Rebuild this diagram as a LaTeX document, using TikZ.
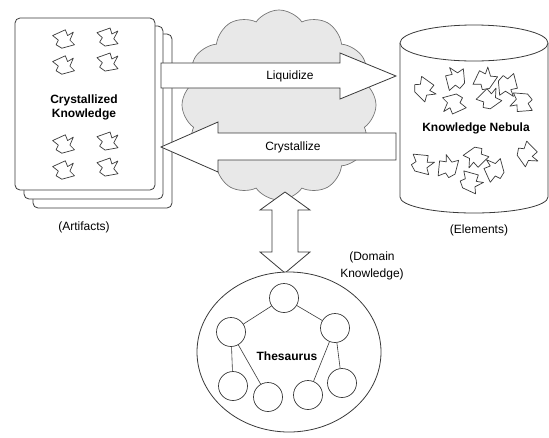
\documentclass[tikz,border=0pt]{standalone}
\usepackage{fontspec}
\setmainfont{Liberation Sans}
\usetikzlibrary{shapes.symbols}
\definecolor{ln}{HTML}{3A3A3A}
\definecolor{cloudfill}{HTML}{E8E8E8}
\begin{document}
\begin{tikzpicture}[x=1pt,y=-1pt,line width=0.8pt,
  lbl/.style={font=\fontsize{12}{14}\selectfont, text=black, inner sep=0pt},
  blbl/.style={font=\bfseries\fontsize{12}{14}\selectfont, text=black, inner sep=0pt},
  pagebox/.style={draw=ln, fill=white, rounded corners=5pt},
  bigarrow/.style={draw=ln, fill=white, line width=0.8pt, line join=miter},
  smallc/.style={circle, draw=ln, fill=white, minimum size=29pt, inner sep=0pt, line width=0.7pt},
  link/.style={draw=ln, line width=0.6pt},
  frag/.pic={\draw[ln, line width=0.7pt, fill=white, line join=round]
     (-9,-3) -- (2,-8) -- (4,-3) -- (9,-6) -- (6,1) -- (10,5) -- (-1,8) -- (-6,5) -- (-4,1) -- cycle;}
]
\useasboundingbox (0,0) rectangle (549,437);

% ---- document stack (Artifacts)
\draw[pagebox] (33,34) rectangle (172,208);
\draw[pagebox] (24,26) rectangle (163,199);
\draw[pagebox] (15,18) rectangle (155,190);
\node[blbl] (cktop) at (84,100) {Crystallized};
\node[blbl] (ckbot) at (84,114) {Knowledge};
\node[lbl] (artifacts) at (84,227) {(Artifacts)};
\foreach \p/\r in {{(63,39)}/0, {(107,37)}/-5, {(63,65)}/0, {(107,62)}/-5,
                   {(63,144)}/0, {(107,141)}/-5, {(63,170)}/0, {(107,167)}/-5}
  \pic[rotate=\r, scale=1.15] at \p {frag};

% ---- cloud
\node[cloud, cloud puffs=12, cloud puff arc=110, aspect=1, draw=ln!70, fill=cloudfill,
      line width=0.7pt, minimum width=194pt, minimum height=190pt, inner sep=0pt]
      (cloud) at (279,105) {};

% ---- knowledge nebula cylinder
\draw[ln, fill=white] (400,43) -- (400,197) arc[start angle=180, end angle=0, x radius=74, y radius=16] -- (548,43);
\draw[ln, fill=white] (474,43) ellipse[x radius=74, y radius=18];
\node[blbl] (nebula) at (476,128) {Knowledge Nebula};
\node[lbl] (elements) at (479,230) {(Elements)};
\foreach \p/\r in {{(424,88)}/-60, {(455,80)}/80, {(455,104)}/180, {(484,80)}/40,
                   {(488,99)}/20, {(508,84)}/-100, {(523,103)}/160,
                   {(421,163)}/-30, {(447,168)}/60, {(477,157)}/200, {(470,181)}/-40,
                   {(494,171)}/90, {(527,153)}/-70}
  \pic[rotate=\r, scale=1.25] at \p {frag};

% ---- Liquidize arrow
\draw[bigarrow] (161,63) -- (340,63) -- (340,53) -- (396,76) -- (340,99) -- (340,88) -- (161,88) -- cycle;
\node[lbl] (liq) at (290,76) {Liquidize};

% ---- Crystallize arrow
\draw[bigarrow] (396,133) -- (218,133) -- (218,122) -- (161,147) -- (218,172) -- (218,160) -- (396,160) -- cycle;
\node[lbl] (cry) at (293,147) {Crystallize};

% ---- vertical double arrow
\draw[bigarrow] (285,192) -- (310,210) -- (298,210) -- (298,252) -- (310,252) -- (285,273)
   -- (260,252) -- (272,252) -- (272,210) -- (260,210) -- cycle;
\node[lbl] (dom1) at (372,257) {(Domain};
\node[lbl] (dom2) at (372,274) {Knowledge)};

% ---- thesaurus
\draw[ln, fill=white] (289,352) ellipse[x radius=92, y radius=80];
\node[smallc] (t0) at (284,298) {};
\node[smallc] (t1) at (231,332) {};
\node[smallc] (t2) at (335,328) {};
\node[smallc] (b1) at (233,386) {};
\node[smallc] (b2) at (268,397) {};
\node[smallc] (b3) at (308,395) {};
\node[smallc] (b4) at (342,383) {};
\draw[link] (t0) -- (t1);
\draw[link] (t0) -- (t2);
\draw[link] (t1) -- (b1);
\draw[link] (t1) -- (b2);
\draw[link] (t2) -- (b3);
\draw[link] (t2) -- (b4);
\node[blbl] (thes) at (287,356) {Thesaurus};
\end{tikzpicture}
\end{document}
